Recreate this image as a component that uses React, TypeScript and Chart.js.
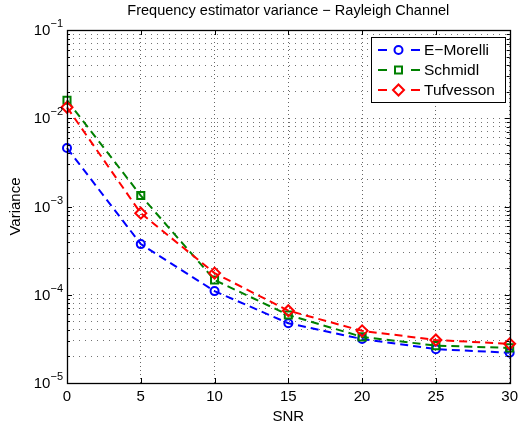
import { useEffect, useRef } from 'react';
import { Chart, registerables } from 'chart.js';

Chart.register(...registerables);

// SNR values (dB) on the horizontal axis
const snr = [0, 5, 10, 15, 20, 25, 30];
// Estimator variance per method
const eMorelli = [4.6e-3, 3.75e-4, 1.1e-4, 4.75e-5, 3.15e-5, 2.42e-5, 2.2e-5];
const schmidl = [1.6e-2, 1.33e-3, 1.47e-4, 5.9e-5, 3.33e-5, 2.65e-5, 2.5e-5];
const tufvesson = [1.33e-2, 8.4e-4, 1.76e-4, 6.6e-5, 3.9e-5, 3.07e-5, 2.78e-5];

const xTicks = [0, 5, 10, 15, 20, 25, 30];
const yDecades = [-5, -4, -3, -2, -1];
const seriesNames = ['E\u2212Morelli', 'Schmidl', 'Tufvesson'];
const seriesColors = ['#0000ff', '#008000', '#ff0000'];
const seriesMarkers = ['circle', 'rect', 'rectRot'];

const titleText = 'Frequency estimator variance \u2212 Rayleigh Channel';
const xLabel = 'SNR';
const yLabel = 'Variance';

const FONT = '"Liberation Sans", Arial, Helvetica, sans-serif';

// every 1..9 x 10^n value between the decades, used for grid and minor ticks
const logTickValues: number[] = [];
for (let d = yDecades[0]; d < yDecades[yDecades.length - 1]; d++) {
  for (let m = 1; m <= 9; m++) logTickValues.push(m * Math.pow(10, d));
}
logTickValues.push(Math.pow(10, yDecades[yDecades.length - 1]));

function drawMarker(ctx: CanvasRenderingContext2D, kind: string, x: number, y: number, color: string) {
  ctx.save();
  ctx.strokeStyle = color;
  ctx.lineWidth = 2;
  ctx.setLineDash([]);
  ctx.beginPath();
  if (kind === 'circle') {
    ctx.arc(x, y, 4, 0, Math.PI * 2);
  } else if (kind === 'rect') {
    ctx.rect(x - 3.5, y - 3.5, 7, 7);
  } else {
    ctx.moveTo(x, y - 5.5);
    ctx.lineTo(x + 5.5, y);
    ctx.lineTo(x, y + 5.5);
    ctx.lineTo(x - 5.5, y);
    ctx.closePath();
  }
  ctx.stroke();
  ctx.restore();
}

const axesDecor = {
  id: 'axesDecor',
  afterDatasetsDraw(chart: any) {
    const { ctx, chartArea } = chart;
    const xs = chart.scales.x;
    const ys = chart.scales.y;
    const { left, right, top, bottom } = chartArea;
    ctx.save();
    ctx.strokeStyle = '#000';
    ctx.lineWidth = 1;
    ctx.setLineDash([]);
    // inward tick marks on all four sides
    ctx.beginPath();
    xTicks.forEach((v) => {
      const px = Math.round(xs.getPixelForValue(v)) + 0.5;
      ctx.moveTo(px, bottom);
      ctx.lineTo(px, bottom - 5);
      ctx.moveTo(px, top);
      ctx.lineTo(px, top + 5);
    });
    logTickValues.forEach((v) => {
      const major = Math.abs(Math.log10(v) - Math.round(Math.log10(v))) < 1e-9;
      const len = major ? 5 : 3;
      const py = Math.round(ys.getPixelForValue(v)) + 0.5;
      ctx.moveTo(left, py);
      ctx.lineTo(left + len, py);
      ctx.moveTo(right, py);
      ctx.lineTo(right - len, py);
    });
    ctx.stroke();
    // axes box
    ctx.lineWidth = 1.3;
    ctx.strokeRect(Math.round(left) + 0.5, Math.round(top) + 0.5, Math.round(right - left), Math.round(bottom - top));
    ctx.restore();
  },
  afterDraw(chart: any) {
    const { ctx, chartArea } = chart;
    const ys = chart.scales.y;
    const { left, right, top, bottom } = chartArea;
    ctx.save();
    ctx.fillStyle = '#000';

    // y tick labels as 10 with a superscript exponent
    yDecades.forEach((d) => {
      const py = ys.getPixelForValue(Math.pow(10, d));
      const sup = '\u2212' + String(-d);
      ctx.font = `15px ${FONT}`;
      const wBase = ctx.measureText('10').width;
      ctx.font = `11px ${FONT}`;
      const wSup = ctx.measureText(sup).width;
      const xEnd = left - 4;
      ctx.textBaseline = 'middle';
      ctx.textAlign = 'left';
      ctx.font = `15px ${FONT}`;
      ctx.fillText('10', xEnd - wSup - wBase, py + 1);
      ctx.font = `11px ${FONT}`;
      ctx.fillText(sup, xEnd - wSup, py - 6);
    });

    // title and axis labels
    ctx.textAlign = 'center';
    ctx.textBaseline = 'middle';
    ctx.font = `14.5px ${FONT}`;
    ctx.fillText(titleText, (left + right) / 2, 11);
    ctx.font = `15px ${FONT}`;
    ctx.fillText(xLabel, (left + right) / 2, 417);
    ctx.save();
    ctx.translate(16, (top + bottom) / 2);
    ctx.rotate(-Math.PI / 2);
    ctx.fillText(yLabel, 0, 0);
    ctx.restore();

    // legend box
    const lx = 371, ly = 37, lw = 134, lh = 65;
    ctx.fillStyle = '#fff';
    ctx.fillRect(lx, ly, lw, lh);
    ctx.strokeStyle = '#000';
    ctx.lineWidth = 1;
    ctx.strokeRect(lx + 0.5, ly + 0.5, lw, lh);
    seriesNames.forEach((name, i) => {
      const y = 50 + i * 20;
      const color = seriesColors[i];
      ctx.strokeStyle = color;
      ctx.lineWidth = 2;
      ctx.beginPath();
      ctx.moveTo(378, y);
      ctx.lineTo(387, y);
      ctx.moveTo(411, y);
      ctx.lineTo(420, y);
      ctx.stroke();
      drawMarker(ctx, seriesMarkers[i], 398.5, y, color);
      ctx.fillStyle = '#000';
      ctx.font = `15.5px ${FONT}`;
      ctx.textAlign = 'left';
      ctx.textBaseline = 'middle';
      ctx.fillText(name, 424, y + 1);
    });
    ctx.restore();
  },
};

export default function App() {
  const canvasRef = useRef<HTMLCanvasElement | null>(null);

  useEffect(() => {
    const canvas = canvasRef.current;
    if (!canvas) return;
    const series = [eMorelli, schmidl, tufvesson];
    const radii = [4, 5, 5.5];
    const chart = new Chart(canvas, {
      type: 'line',
      data: {
        datasets: series.map((vals, i) => ({
          label: seriesNames[i],
          data: snr.map((x, j) => ({ x, y: vals[j] })),
          borderColor: seriesColors[i],
          backgroundColor: 'rgba(0,0,0,0)',
          borderWidth: 2,
          borderDash: [8, 5],
          pointStyle: seriesMarkers[i] as any,
          pointRadius: radii[i],
          pointBorderWidth: 2,
          pointBorderColor: seriesColors[i],
          pointBackgroundColor: 'rgba(0,0,0,0)',
          tension: 0,
          clip: false as any,
          order: 3 - i,
        })),
      },
      options: {
        responsive: false,
        animation: false,
        devicePixelRatio: 1,
        layout: { padding: { top: 30, right: 8, left: 0, bottom: 0 } },
        plugins: {
          legend: { display: false },
          title: { display: false },
          tooltip: { enabled: false },
        },
        scales: {
          x: {
            type: 'linear',
            min: 0,
            max: 30,
            afterBuildTicks: (scale: any) => {
              scale.ticks = xTicks.map((v) => ({ value: v }));
            },
            afterFit: (scale: any) => {
              scale.height = 44;
            },
            ticks: {
              color: '#000',
              font: { family: FONT, size: 15 },
              padding: 5,
              maxRotation: 0,
              callback: (v: any) => String(v),
            },
            grid: { color: 'rgba(0,0,0,0.6)', lineWidth: 1, drawTicks: false },
            border: { display: false, dash: [1, 3] },
          },
          y: {
            type: 'logarithmic',
            min: Math.pow(10, yDecades[0]),
            max: Math.pow(10, yDecades[yDecades.length - 1]),
            afterBuildTicks: (scale: any) => {
              scale.ticks = logTickValues.map((v) => ({ value: v }));
            },
            afterFit: (scale: any) => {
              scale.width = 67;
            },
            ticks: { display: false },
            grid: { color: 'rgba(0,0,0,0.55)', lineWidth: 1, drawTicks: false },
            border: { display: false, dash: [1, 5] },
          },
        },
      },
      plugins: [axesDecor],
    });
    return () => chart.destroy();
  }, []);

  return (
    <div style={{ position: 'absolute', left: 0, top: 0, width: 523, height: 427, background: '#fff' }}>
      <canvas ref={canvasRef} width={523} height={427} />
    </div>
  );
}
